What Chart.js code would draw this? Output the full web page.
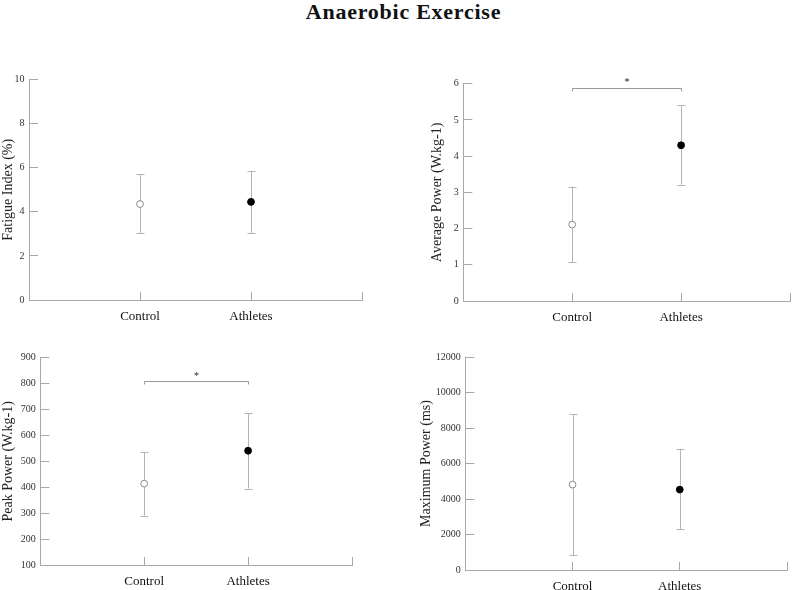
<!DOCTYPE html>
<html><head><meta charset="utf-8">
<script src="https://cdn.jsdelivr.net/npm/chart.js@4"></script>
<style>
html,body{margin:0;padding:0;width:795px;height:590px;overflow:hidden;background:#fff;position:relative;}
#title{position:absolute;left:6px;top:-1px;width:795px;text-align:center;font:bold 22px "Liberation Serif",serif;color:#111;letter-spacing:0.75px;}
canvas{position:absolute;}
</style></head><body>
<div id="title">Anaerobic Exercise</div>
<canvas id="c1"></canvas>
<canvas id="c2"></canvas>
<canvas id="c3"></canvas>
<canvas id="c4"></canvas>
<script>
const categories = ['Control', 'Athletes'];

const fatigueMean = [4.35, 4.45];
const fatigueLow  = [3.02, 3.04];
const fatigueHigh = [5.70, 5.86];
const fatigueTicks = [0, 2, 4, 6, 8, 10];

const avgMean = [2.11, 4.30];
const avgLow  = [1.08, 3.21];
const avgHigh = [3.16, 5.41];
const avgTicks = [0, 1, 2, 3, 4, 5, 6];
const avgSig = {level: 5.88, star: 6.08};

const peakMean = [414, 541];
const peakLow  = [291, 395];
const peakHigh = [537, 686];
const peakTicks = [100, 200, 300, 400, 500, 600, 700, 800, 900];
const peakSig = {level: 809, star: 837};

const maxMean = [4810, 4530];
const maxLow  = [830, 2290];
const maxHigh = [8770, 6820];
const maxTicks = [0, 2000, 4000, 6000, 8000, 10000, 12000];

const xTickPositions = [1, 2, 3];

const FONT = '"Liberation Serif", "Times New Roman", serif';
const AXIS = '#a8a8a8';

const errorBars = {
  id: 'errorBars',
  beforeDatasetsDraw(chart) {
    const ds = chart.data.datasets[0];
    const {ctx, scales: {x, y}} = chart;
    ctx.save();
    ctx.strokeStyle = '#b4b4b4';
    ctx.lineWidth = 1;
    ds.errLow.forEach((lo, i) => {
      const px = Math.round(x.getPixelForValue(i + 1)) + 0.5;
      const yl = y.getPixelForValue(lo);
      const yh = y.getPixelForValue(ds.errHigh[i]);
      ctx.beginPath();
      ctx.moveTo(px, yl); ctx.lineTo(px, yh);
      ctx.moveTo(px - 4, Math.round(yl) + 0.5); ctx.lineTo(px + 4, Math.round(yl) + 0.5);
      ctx.moveTo(px - 4, Math.round(yh) + 0.5); ctx.lineTo(px + 4, Math.round(yh) + 0.5);
      ctx.stroke();
    });
    ctx.restore();
  },
  afterDatasetsDraw(chart) {
    const sig = chart.data.datasets[0].sig;
    if (!sig) return;
    const {ctx, scales: {x, y}} = chart;
    const x1 = Math.round(x.getPixelForValue(1)) + 0.5;
    const x2 = Math.round(x.getPixelForValue(2)) + 0.5;
    const yb = Math.round(y.getPixelForValue(sig.level)) + 0.5;
    ctx.save();
    ctx.strokeStyle = '#999';
    ctx.lineWidth = 1;
    ctx.beginPath();
    ctx.moveTo(x1, yb + 3); ctx.lineTo(x1, yb); ctx.lineTo(x2, yb); ctx.lineTo(x2, yb + 3);
    ctx.stroke();
    ctx.fillStyle = '#222';
    ctx.font = '10px ' + FONT;
    ctx.textAlign = 'center';
    ctx.textBaseline = 'middle';
    ctx.fillText('*', (x1 + x2) / 2, y.getPixelForValue(sig.star) + 2);
    ctx.restore();
  }
};

function makeChart(id, g, yTitle, means, lows, highs, yTicks, sig) {
  const cv = document.getElementById(id);
  cv.width = g.width; cv.height = g.height;
  cv.style.left = g.left + 'px'; cv.style.top = g.top + 'px';
  return new Chart(cv, {
    type: 'scatter',
    data: {
      datasets: [{
        data: means.map((m, i) => ({x: i + 1, y: m})),
        errLow: lows, errHigh: highs, sig: sig,
        pointRadius: 3.4,
        pointBorderWidth: 1,
        pointBackgroundColor: ['#ffffff', '#000000'],
        pointBorderColor: ['#8a8a8a', '#000000'],
        clip: false
      }]
    },
    options: {
      responsive: false,
      animation: false,
      devicePixelRatio: 1,
      layout: {padding: {top: g.padTop, right: 18, left: 0, bottom: 0}},
      plugins: {legend: {display: false}, tooltip: {enabled: false}},
      scales: {
        x: {
          type: 'linear', min: 0, max: 3,
          afterBuildTicks: s => { s.ticks = xTickPositions.map(v => ({value: v})); },
          ticks: {
            callback: v => categories[v - 1] ?? '',
            font: {family: FONT, size: 13}, color: '#111',
            padding: 16.7, maxRotation: 0, autoSkip: false
          },
          grid: {drawOnChartArea: false, drawTicks: true, tickLength: -8, color: AXIS, lineWidth: 1},
          border: {display: true, color: AXIS, width: 1},
          afterFit: s => { s.height = 40; }
        },
        y: {
          type: 'linear', min: yTicks[0], max: yTicks[yTicks.length - 1],
          afterBuildTicks: s => { s.ticks = yTicks.map(v => ({value: v})); },
          ticks: {callback: v => String(v), font: {family: FONT, size: 10}, color: '#333', padding: 13.5},
          grid: {drawOnChartArea: false, drawTicks: true, tickLength: -9, color: AXIS, lineWidth: 1},
          border: {display: true, color: AXIS, width: 1},
          title: {display: true, text: yTitle, font: {family: FONT, size: 14}, color: '#222', padding: 0},
          afterFit: s => { s.width = g.axisW; }
        }
      }
    },
    plugins: [errorBars]
  });
}

// canvas width = chart-area right edge - left + 18 (right padding)
makeChart('c1', {left: 0, top: 60, width: 380, height: 280, axisW: 29, padTop: 19},
  'Fatigue Index (%)', fatigueMean, fatigueLow, fatigueHigh, fatigueTicks, null);
makeChart('c2', {left: 429, top: 60, width: 379, height: 281.3, axisW: 34.3, padTop: 23.7},
  'Average Power (W.kg-1)', avgMean, avgLow, avgHigh, avgTicks, avgSig);
makeChart('c3', {left: 0, top: 330, width: 370.7, height: 275.7, axisW: 40.3, padTop: 27.7},
  'Peak Power (W.kg-1)', peakMean, peakLow, peakHigh, peakTicks, peakSig);
makeChart('c4', {left: 418, top: 330, width: 387.3, height: 280, axisW: 47.3, padTop: 27},
  'Maximum Power (ms)', maxMean, maxLow, maxHigh, maxTicks, null);
</script>
</body></html>
